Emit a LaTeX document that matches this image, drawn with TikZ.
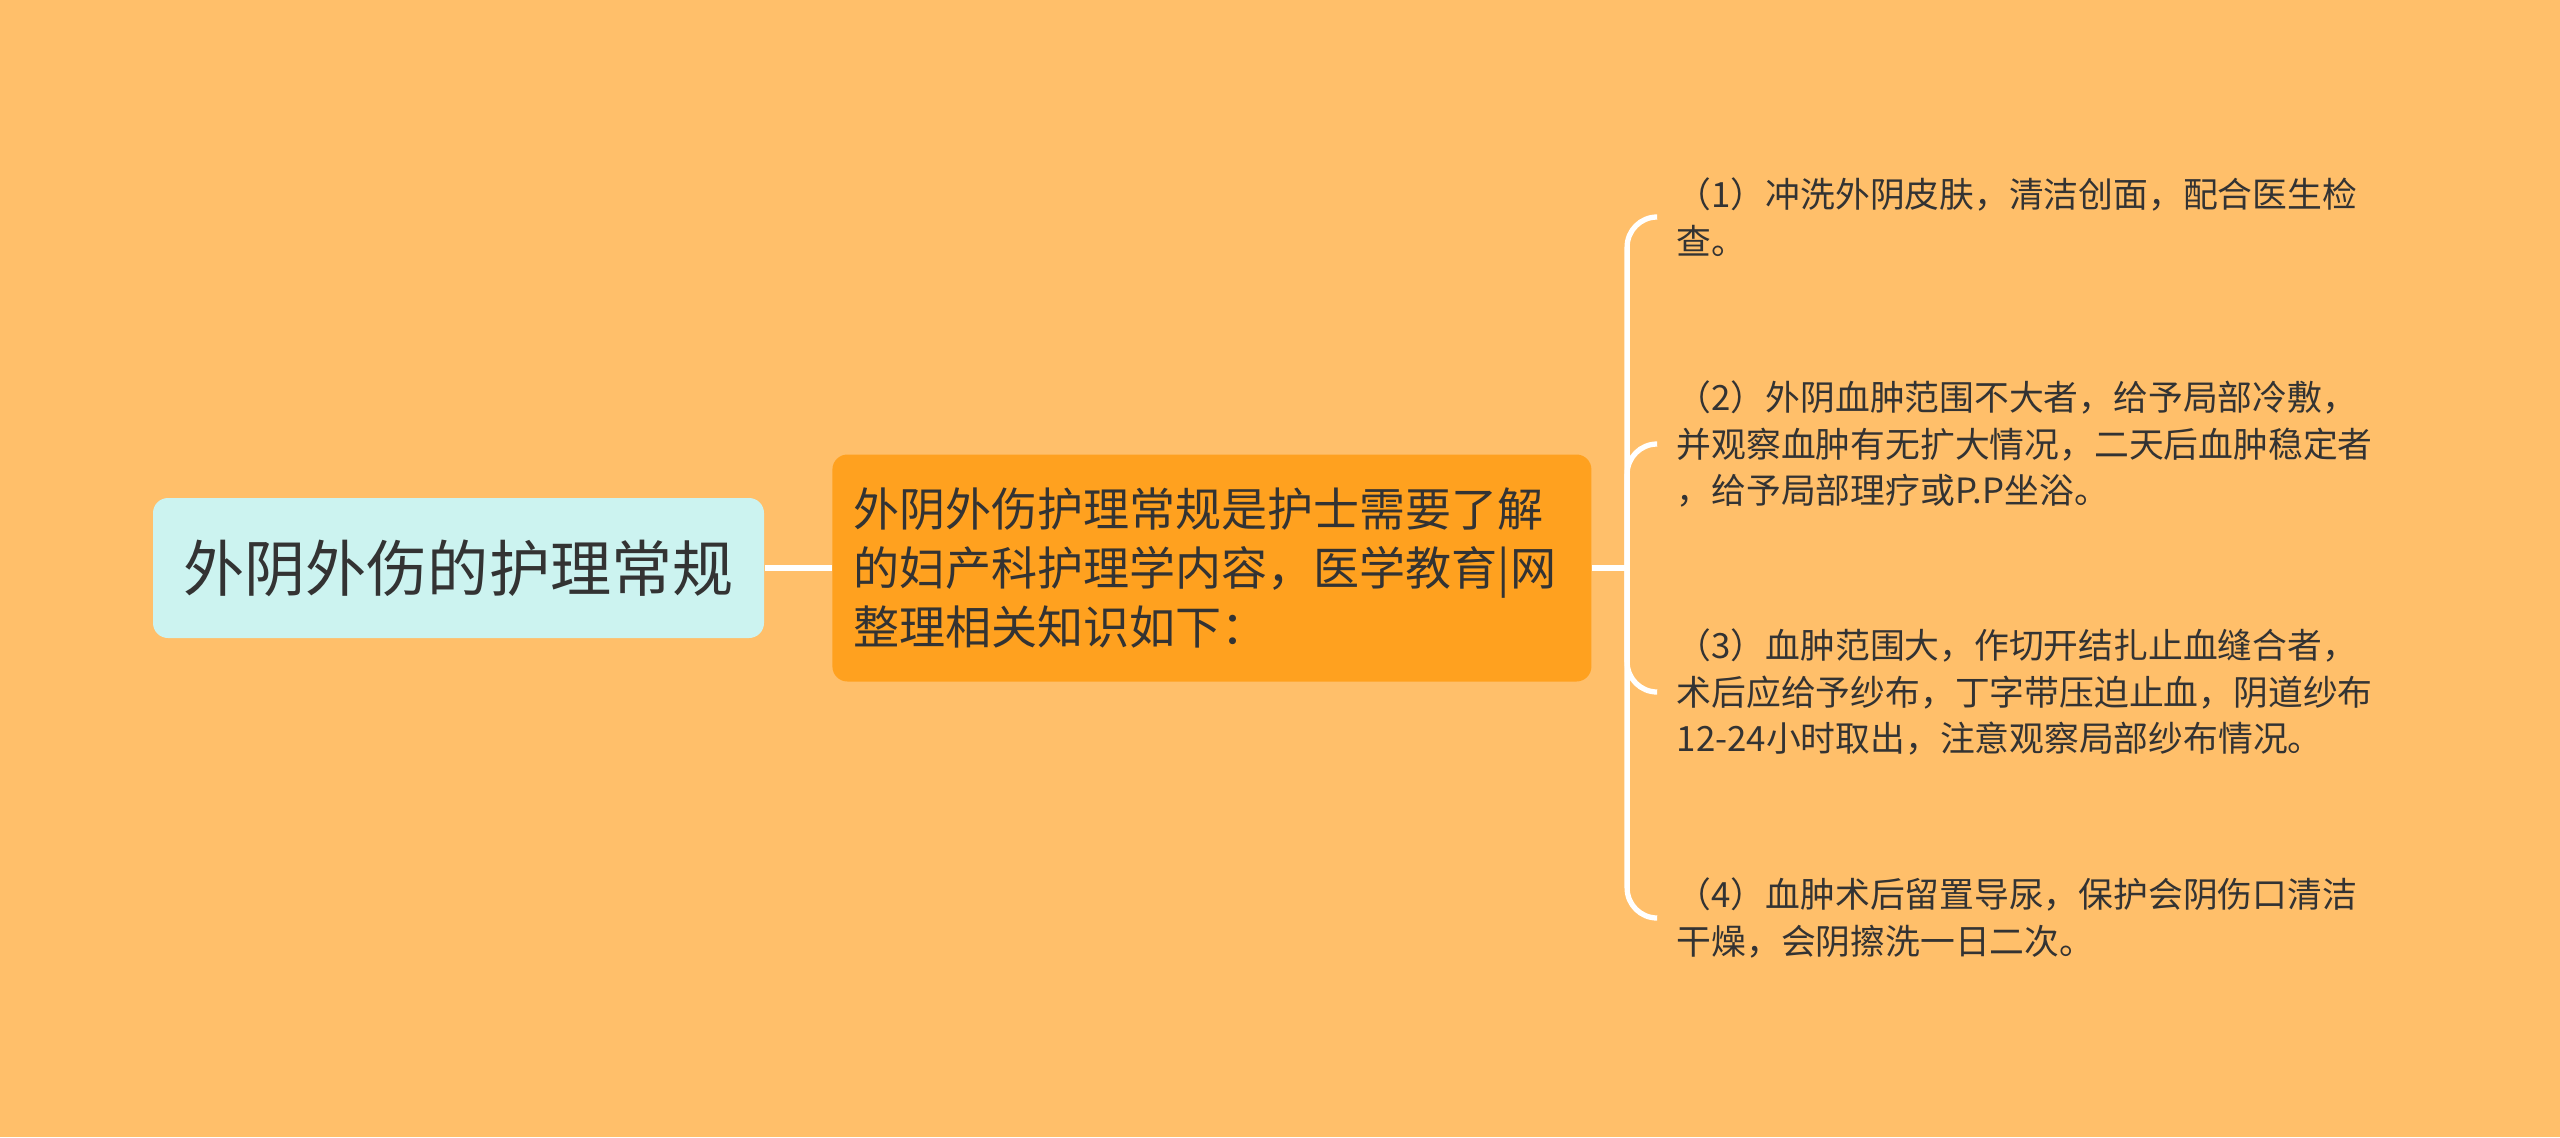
\documentclass[tikz,border=0pt]{standalone}
\usepackage{fontspec}
\setmainfont{Noto Sans CJK SC}
\usetikzlibrary{positioning}

\definecolor{bgorange}{RGB}{255,191,106}
\definecolor{rootcyan}{RGB}{204,243,240}
\definecolor{midorange}{RGB}{255,161,31}
\definecolor{txtgray}{RGB}{51,51,51}

\tikzset{
	rootbox/.style={fill=rootcyan,rounded corners=0.15cm,minimum width=6.11cm,minimum height=1.40cm,text=txtgray,font=\fontsize{17.4}{20}\selectfont},
	midbox/.style={fill=midorange,rounded corners=0.15cm,minimum height=2.27cm,text width=7.17cm,inner xsep=0.21cm,align=left,text=txtgray,font=\fontsize{13.1}{16.7}\selectfont},
	leafbox/.style={anchor=west,inner xsep=0.19cm,align=left,text=txtgray,font=\fontsize{9.9}{13.2}\selectfont},
	branch/.style={draw=white,line width=1.5pt},
}

\begin{document}
\begin{tikzpicture}[>=latex]
		\fill[bgorange] (0,0) rectangle (25.6,-11.37);
		\useasboundingbox (0,0) rectangle (25.6,-11.37);
		
		\node[rootbox] (root) at (4.585,-5.68) {外阴外伤的护理常规};
		\node[midbox,right=0.67cm of root] (intro) {外阴外伤护理常规是护士需要了解\\的妇产科护理学内容，医学教育|网\\整理相关知识如下：};
		\coordinate[right=0.35cm of intro] (hub);
		
		\node[leafbox] (leaf1) at (16.57,-2.17) {（1）冲洗外阴皮肤，清洁创面，配合医生检\\查。};
		\node[leafbox] (leaf2) at (16.57,-4.44) {（2）外阴血肿范围不大者，给予局部冷敷，\\并观察血肿有无扩大情况，二天后血肿稳定者\\，给予局部理疗或P.P坐浴。};
		\node[leafbox] (leaf3) at (16.57,-6.92) {（3）血肿范围大，作切开结扎止血缝合者，\\术后应给予纱布，丁字带压迫止血，阴道纱布\\12-24小时取出，注意观察局部纱布情况。};
		\node[leafbox] (leaf4) at (16.57,-9.18) {（4）血肿术后留置导尿，保护会阴伤口清洁\\干燥，会阴擦洗一日二次。};
		
		\path
			(root) edge[branch] (intro)
			(intro.east) edge[branch] (hub)
			;
		\foreach \n in {1,...,4}
			\draw[branch,rounded corners=0.3cm] (hub) |- (leaf\n.west);
	\end{tikzpicture}
\end{document}
